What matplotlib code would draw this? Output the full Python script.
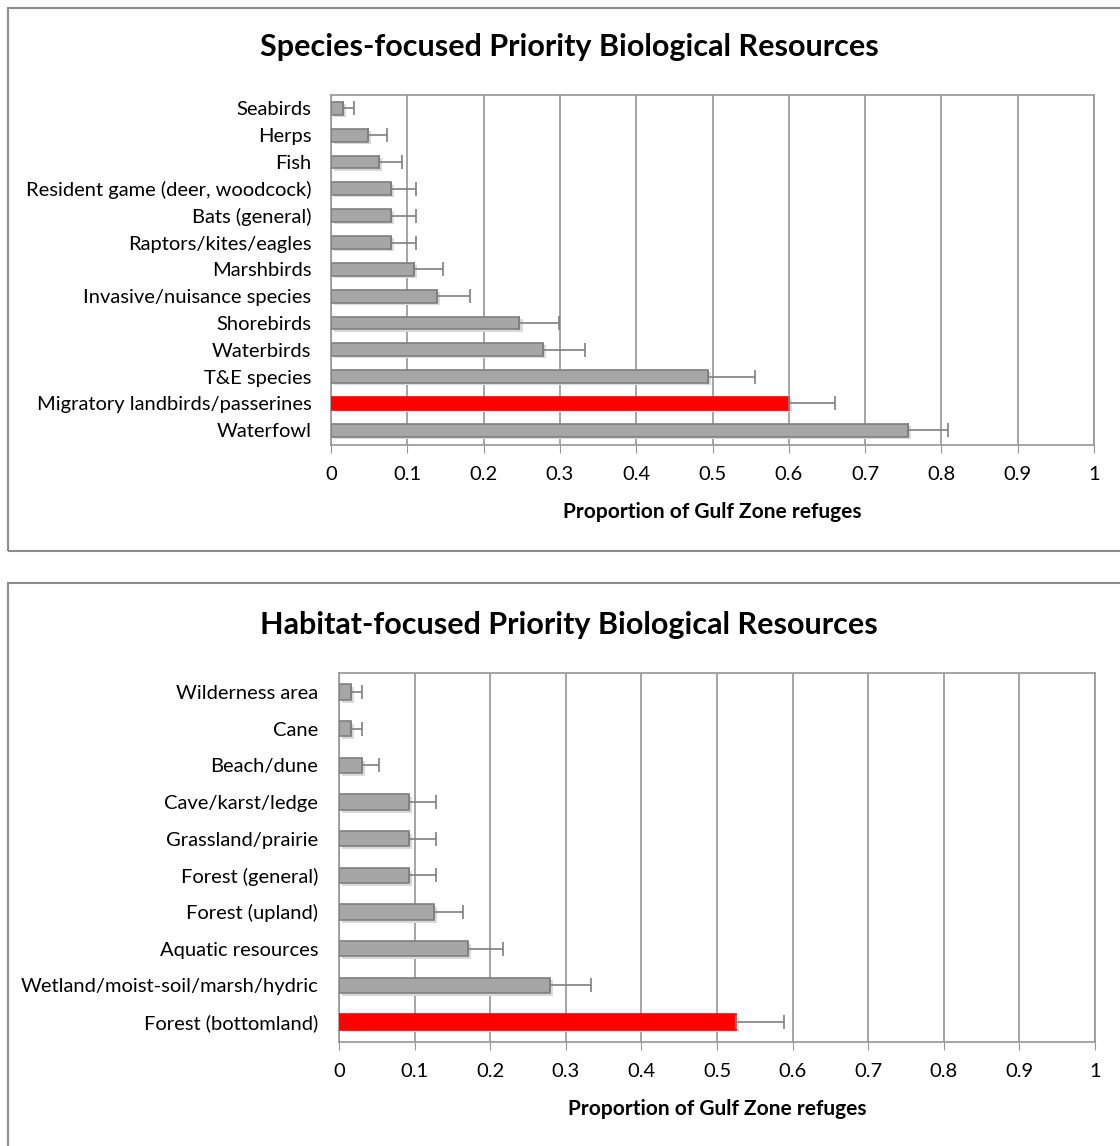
import matplotlib
matplotlib.use("Agg")
import matplotlib.pyplot as plt
from matplotlib.patches import Rectangle
import numpy as np

plt.rcParams["font.family"] = ["Lato", "DejaVu Sans"]

# Species-focused (top to bottom as drawn)
species = ["Seabirds", "Herps", "Fish", "Resident game (deer, woodcock)",
           "Bats (general)", "Raptors/kites/eagles", "Marshbirds",
           "Invasive/nuisance species", "Shorebirds", "Waterbirds",
           "T&E species", "Migratory landbirds/passerines", "Waterfowl"]
species_val = [0.016, 0.048, 0.063, 0.078, 0.078, 0.078, 0.109,
               0.139, 0.247, 0.278, 0.494, 0.600, 0.756]
species_err = [0.014, 0.026, 0.030, 0.033, 0.033, 0.033, 0.038,
               0.043, 0.052, 0.055, 0.062, 0.061, 0.052]

# Habitat-focused (top to bottom as drawn)
habitat = ["Wilderness area", "Cane", "Beach/dune", "Cave/karst/ledge",
           "Grassland/prairie", "Forest (general)", "Forest (upland)",
           "Aquatic resources", "Wetland/moist-soil/marsh/hydric",
           "Forest (bottomland)"]
habitat_val = [0.016, 0.016, 0.031, 0.092, 0.092, 0.092, 0.125,
               0.170, 0.279, 0.525]
habitat_err = [0.015, 0.015, 0.022, 0.036, 0.036, 0.036, 0.039,
               0.047, 0.054, 0.063]

xticks = [0, 0.1, 0.2, 0.3, 0.4, 0.5, 0.6, 0.7, 0.8, 0.9, 1]
xticklabels = ["0", "0.1", "0.2", "0.3", "0.4", "0.5", "0.6", "0.7", "0.8", "0.9", "1"]

GRAY = "#a6a6a6"
EDGE = "#7f7f7f"
RED = "#ff0000"
GRID = "#969696"

W, H = 1120, 1146
fig = plt.figure(figsize=(W / 100, H / 100), dpi=100)

# panel frames
fig.patches.append(Rectangle((8 / W, 1 - 551 / H), 1.2, 543 / H, transform=fig.transFigure,
                             fill=False, edgecolor="#8c8c8c", linewidth=1.5))
fig.patches.append(Rectangle((8 / W, -0.1), 1.2, 0.1 + 1 - 583 / H, transform=fig.transFigure,
                             fill=False, edgecolor="#8c8c8c", linewidth=1.5))


def draw(rect, labels, vals, errs, highlight, title, title_y, ylim, bar_h, lpad):
    ax = fig.add_axes(rect)
    pos = np.arange(len(labels))
    colors = [RED if lab == highlight else GRAY for lab in labels]
    edges = [RED if lab == highlight else EDGE for lab in labels]
    # soft shadow
    ax.barh(pos + 0.08, vals, height=bar_h, left=0.004, color="#d9d9d9",
            edgecolor="none", zorder=2)
    ax.barh(pos, vals, height=bar_h, color=colors, edgecolor=edges,
            linewidth=1.2, zorder=3)
    ax.errorbar(vals, pos, xerr=[np.zeros(len(vals)), errs], fmt="none",
                ecolor="#7f7f7f", elinewidth=1.2, capsize=5, capthick=1.2, zorder=4)
    ax.set_xlim(0, 1)
    ax.set_ylim(ylim)
    ax.set_yticks(pos)
    ax.set_yticklabels(labels, fontsize=14.5)
    ax.set_xticks(xticks)
    ax.set_xticklabels(xticklabels, fontsize=14.5)
    ax.tick_params(axis="y", length=0, pad=lpad)
    ax.tick_params(axis="x", length=6, color=GRID, direction="out", pad=9)
    ax.grid(axis="x", color=GRID, linewidth=1.2, zorder=0)
    ax.set_axisbelow(True)
    for s in ax.spines.values():
        s.set_color(GRID)
        s.set_linewidth(1.2)
    ax.set_xlabel("Proportion of Gulf Zone refuges", fontsize=15,
                  fontweight="bold", labelpad=14)
    fig.text(0.508, title_y, title, ha="center", va="center", fontsize=22,
             fontweight="bold")
    return ax


draw([331 / W, 1 - 445 / H, 763 / W, 350 / H], species, species_val, species_err,
     "Migratory landbirds/passerines", "Species-focused Priority Biological Resources",
     1 - 47 / H, (12.55, -0.5), 0.48, 14)
draw([339 / W, 1 - 1042 / H, 756 / W, 369 / H], habitat, habitat_val, habitat_err,
     "Forest (bottomland)", "Habitat-focused Priority Biological Resources",
     1 - 625 / H, (9.55, -0.52), 0.42, 15)

fig.savefig("out.png", dpi=100)
